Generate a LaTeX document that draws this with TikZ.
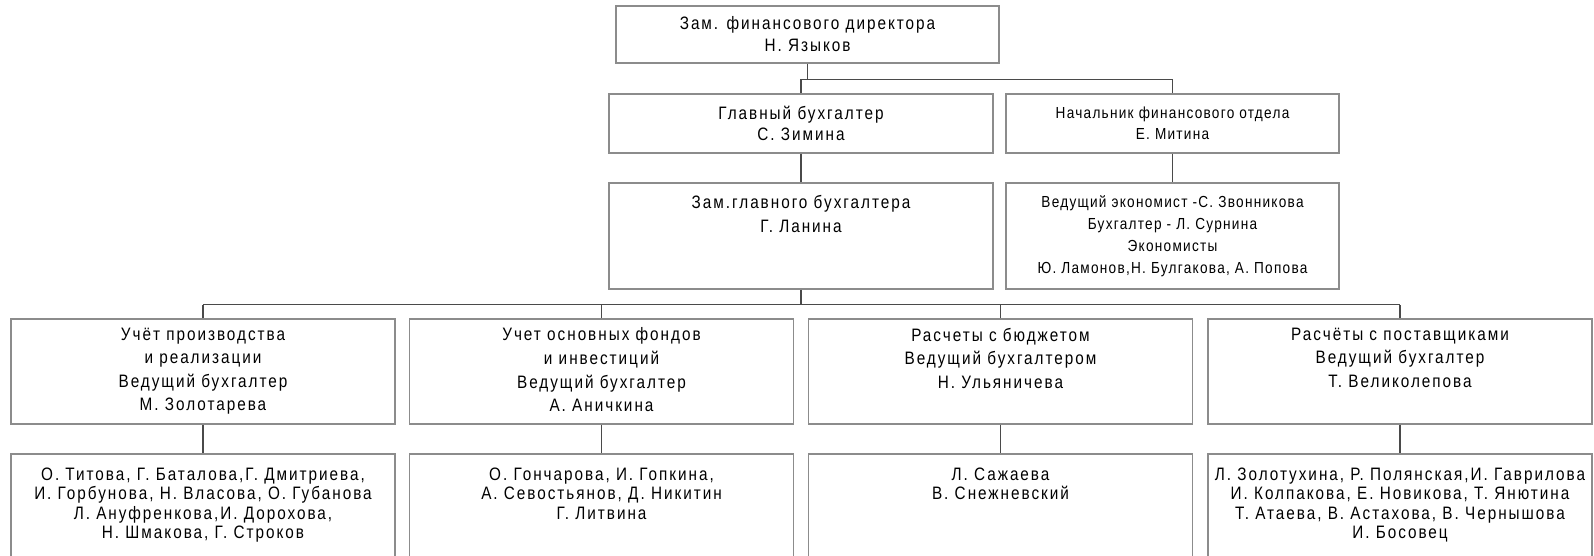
\documentclass[tikz,border=0pt]{standalone}
\usepackage{fontspec}
\setmainfont{Liberation Sans}
\newfontfamily\bigfont{Liberation Sans}[FakeStretch=0.85, LetterSpace=11]
\newfontfamily\smallfont{Liberation Sans}[FakeStretch=0.85, LetterSpace=8]
\newfontfamily\listfont{Liberation Sans}[FakeStretch=0.85, LetterSpace=11]
\usetikzlibrary{positioning}
\definecolor{boxgray}{HTML}{8C8C8C}
\definecolor{linegray}{HTML}{4A4A4A}

\begin{document}
\begin{tikzpicture}[x=0.5pt, y=-0.5pt,
            % Рамка блока
            unit/.style={draw=boxgray, line width=0.6pt, minimum width=192pt, inner sep=0pt},
            % Текст внутри блока (крупный)
            txt/.style={align=center, inner sep=0pt, font=\bigfont\fontsize{9}{#1}\selectfont},
            txt/.default=11,
            % Текст правой колонки
            small/.style={align=center, inner sep=0pt, font=\smallfont\fontsize{8}{#1}\selectfont},
            % Список сотрудников
            names/.style={align=center, inner sep=0pt, font=\listfont\fontsize{9}{9.7}\selectfont},
            % Соединительная линия
            link/.style={draw=linegray, line width=0.6pt}
        ]
            \useasboundingbox (0,0) rectangle (1594,556);

            % --- 1. РУКОВОДСТВО ---
            \node[unit, minimum width=191.5pt, minimum height=28.5pt, txt] (zfd) at (807.5,34.5)
                {Зам. финансового директора\\Н. Языков};
            \node[unit, minimum height=29.5pt, txt=10.5] (glav) at (801,123.5)
                {Главный бухгалтер\\С. Зимина};
            \node[unit, minimum width=166.5pt, minimum height=29.5pt, small=10.5] (nach) at (1172.5,123.5)
                {Начальник финансового отдела\\Е. Митина};

            % --- 2. ЗАМЕСТИТЕЛЬ И ЭКОНОМИСТЫ ---
            \node[unit, minimum height=53pt] (zgb) at (801,236) {};
            \node[txt=12, below=6pt of zgb.north] (t-zgb) {Зам.главного бухгалтера\\Г. Ланина};
            \node[unit, minimum width=166.5pt, minimum height=53pt, small=11] (ved) at (1172.5,236)
                {Ведущий экономист -С. Звонникова\\Бухгалтер - Л. Сурнина\\Экономисты\\Ю. Ламонов,Н. Булгакова, А. Попова};

            % --- 3. УЧАСТКИ УЧЁТА ---
            \node[unit, minimum height=52.5pt] (u1) at (203,371.5) {};
            \node[unit, minimum height=52.5pt] (u2) at (601.5,371.5) {};
            \node[unit, minimum height=52.5pt] (u3) at (1000.5,371.5) {};
            \node[unit, minimum height=52.5pt] (u4) at (1400,371.5) {};
            \node[txt=11.8, below=4.5pt of u1.north] (t-u1)
                {Учёт производства\\и реализации\\Ведущий бухгалтер\\М. Золотарева};
            \node[txt=11.8, below=4.5pt of u2.north] (t-u2)
                {Учет основных фондов\\и инвестиций\\Ведущий бухгалтер\\А. Аничкина};
            \node[txt=11.8, below=4.5pt of u3.north] (t-u3)
                {Расчеты с бюджетом\\Ведущий бухгалтером\\Н. Ульяничева};
            \node[txt=11.8, below=4.5pt of u4.north] (t-u4)
                {Расчёты с поставщиками\\Ведущий бухгалтер\\Т. Великолепова};

            % --- 4. СОТРУДНИКИ (низ блоков за краем листа) ---
            \foreach \x [count=\i] in {203,601.5,1000.5,1400}
                \node[unit, minimum height=53pt] (s\i) at (\x,507) {};
            \node[names, below=7pt of s1.north] (t-s1)
                {О. Титова, Г. Баталова,Г. Дмитриева,\\И. Горбунова, Н. Власова, О. Губанова\\Л. Ануфренкова,И. Дорохова,\\Н. Шмакова, Г. Строков};
            \node[names, below=7pt of s2.north] (t-s2)
                {О. Гончарова, И. Гопкина,\\А. Севостьянов, Д. Никитин\\Г. Литвина};
            \node[names, below=7pt of s3.north] (t-s3)
                {Л. Сажаева\\В. Снежневский};
            \node[names, below=7pt of s4.north] (t-s4)
                {Л. Золотухина, Р. Полянская,И. Гаврилова\\И. Колпакова, Е. Новикова, Т. Янютина\\Т. Атаева, В. Астахова, В. Чернышова\\И. Босовец};

            % --- 5. СВЯЗИ ---
            \draw[link] (zfd.south) -- ++(0,16) coordinate (j1);
            \draw[link] (glav.north) |- (j1) -| (nach.north);
            \draw[link] (glav.south) -- (zgb.north);
            \draw[link] (nach.south) -- (ved.north);
            \draw[link] (zgb.south) -- ++(0,15) coordinate (j2);
            \draw[link] (u1.north |- j2) -- (u4.north |- j2);
            \foreach \i in {1,...,4} {
                \draw[link] (u\i.north) -- (u\i.north |- j2);
                \draw[link] (u\i.south) -- (s\i.north);
            }

        \end{tikzpicture}
\end{document}
